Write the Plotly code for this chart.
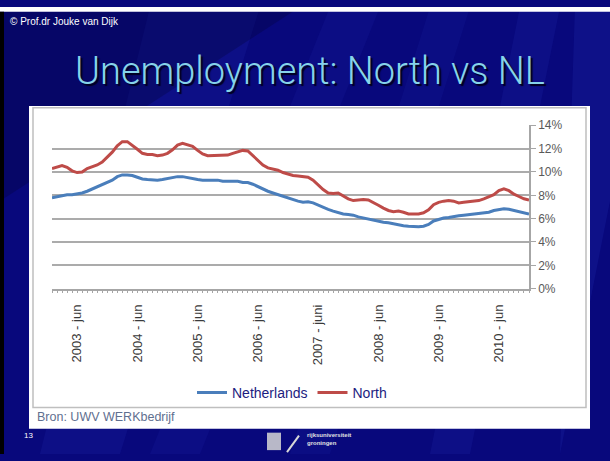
import plotly.graph_objects as go

# ---- data (monthly, Jan 2003 .. Dec 2010), unemployment in % ----
years = [2003, 2004, 2005, 2006, 2007, 2008, 2009, 2010]
month_names = ["jan", "feb", "mrt", "apr", "mei", "jun", "jul", "aug", "sep", "okt", "nov", "dec"]
months = [f"{y} - {m}" for y in years for m in month_names]

north = [10.3, 10.45, 10.55, 10.4, 10.1, 9.95, 10.0, 10.3, 10.45, 10.6, 10.85, 11.3,
         11.7, 12.25, 12.6, 12.6, 12.3, 11.95, 11.6, 11.5, 11.5, 11.4, 11.45, 11.6,
         11.9, 12.3, 12.45, 12.35, 12.2, 11.85, 11.55, 11.4, 11.4, 11.45, 11.4, 11.45,
         11.6, 11.7, 11.85, 11.8, 11.4, 11.0, 10.6, 10.35, 10.25, 10.15, 9.95, 9.8,
         9.7, 9.65, 9.6, 9.55, 9.3, 8.9, 8.5, 8.2, 8.15, 8.2, 7.95, 7.7,
         7.55, 7.6, 7.65, 7.6, 7.4, 7.15, 6.9, 6.7, 6.6, 6.65, 6.55, 6.4,
         6.4, 6.4, 6.5, 6.75, 7.2, 7.4, 7.5, 7.55, 7.5, 7.35, 7.4, 7.45,
         7.45, 7.55, 7.7, 7.85, 8.05, 8.4, 8.55, 8.4, 8.1, 7.9, 7.7, 7.6]

netherlands = [7.8, 7.9, 8.0, 8.05, 8.05, 8.1, 8.2, 8.35, 8.55, 8.7, 8.9, 9.1,
               9.3, 9.6, 9.75, 9.75, 9.7, 9.55, 9.4, 9.35, 9.3, 9.3, 9.35, 9.45,
               9.55, 9.6, 9.6, 9.5, 9.45, 9.35, 9.3, 9.3, 9.35, 9.3, 9.2, 9.2,
               9.15, 9.2, 9.1, 9.1, 8.95, 8.75, 8.5, 8.35, 8.2, 8.05, 7.95, 7.8,
               7.65, 7.5, 7.4, 7.45, 7.35, 7.15, 6.95, 6.8, 6.65, 6.5, 6.4, 6.35,
               6.3, 6.15, 6.05, 5.95, 5.85, 5.75, 5.7, 5.65, 5.55, 5.5, 5.4, 5.35,
               5.3, 5.3, 5.35, 5.5, 5.8, 5.95, 6.05, 6.1, 6.2, 6.25, 6.3, 6.35,
               6.4, 6.45, 6.5, 6.55, 6.7, 6.8, 6.85, 6.8, 6.7, 6.55, 6.45, 6.4]

tick_months = ["2003 - jun", "2004 - jun", "2005 - jun", "2006 - jun",
               "2007 - jun", "2008 - jun", "2009 - jun", "2010 - jun"]
tick_labels = ["2003 - jun", "2004 - jun", "2005 - jun", "2006 - jun",
               "2007 - juni", "2008 - jun", "2009 - jun", "2010 - jun"]
y_ticks = [0, 2, 4, 6, 8, 10, 12, 14]
y_tick_labels = ["0%", "2%", "4%", "6%", "8%", "10%", "12%", "14%"]

W, H = 610, 461
idx = list(range(len(months)))
tick_idx = [months.index(m) for m in tick_months]

def px(x):
    return x / W

def py(y):
    return 1 - y / H

fig = go.Figure()
fig.add_trace(go.Scatter(x=idx, y=netherlands, mode="lines", name="Netherlands",
                         line=dict(color="#4a7ebb", width=3)))
fig.add_trace(go.Scatter(x=idx, y=north, mode="lines", name="North",
                         line=dict(color="#be4b48", width=3)))

shapes = []
# slide background
shapes.append(dict(type="rect", xref="paper", yref="paper", x0=0, x1=1, y0=0, y1=1,
                   fillcolor="#08087c", line=dict(width=0), layer="below"))
# diagonal lighter streaks
streaks = [
    (150, 0, 260, 0, 120, 461, 40, 461, 0.10),
    (330, 0, 380, 0, 200, 461, 150, 461, 0.08),
    (430, 0, 470, 0, 330, 461, 290, 461, 0.07),
    (520, 0, 560, 0, 470, 461, 430, 461, 0.10),
    (575, 0, 610, 0, 610, 200, 560, 461, 0.12),
]
for (ax0, ay0, ax1, ay1, bx1, by1, bx0, by0, op) in streaks:
    path = (f"M {px(ax0)} {py(ay0)} L {px(ax1)} {py(ay1)} "
            f"L {px(bx1)} {py(by1)} L {px(bx0)} {py(by0)} Z")
    shapes.append(dict(type="path", xref="paper", yref="paper", path=path,
                       fillcolor=f"rgba(60,80,230,{op})", line=dict(width=0), layer="below"))
# darker top-left zone
shapes.append(dict(type="path", xref="paper", yref="paper",
                   path=f"M 0 1 L {px(300)} 1 L 0 {py(200)} Z",
                   fillcolor="rgba(0,0,40,0.25)", line=dict(width=0), layer="below"))
# white strip at top, black strip at left
shapes.append(dict(type="rect", xref="paper", yref="paper", x0=0, x1=1, y0=py(5), y1=1,
                   fillcolor="white", line=dict(width=0), layer="below"))
shapes.append(dict(type="rect", xref="paper", yref="paper", x0=0, x1=px(4), y0=0, y1=py(5),
                   fillcolor="black", line=dict(width=0), layer="below"))
# white panel and chart box
shapes.append(dict(type="rect", xref="paper", yref="paper", x0=px(29), x1=px(590),
                   y0=py(435), y1=py(102), fillcolor="white", line=dict(width=0), layer="below"))
shapes.append(dict(type="rect", xref="paper", yref="paper", x0=px(33), x1=px(586),
                   y0=py(413), y1=py(104), fillcolor="white",
                   line=dict(color="#bfbfbf", width=1.5), layer="below"))
# logo approximation
shapes.append(dict(type="rect", xref="paper", yref="paper", x0=px(267), x1=px(281),
                   y0=py(457), y1=py(439), fillcolor="#b8b8c8", line=dict(width=0)))
shapes.append(dict(type="line", xref="paper", yref="paper", x0=px(287), x1=px(299),
                   y0=py(459), y1=py(442), line=dict(color="#d8d8d8", width=2)))

annotations = [
    dict(text="© Prof.dr Jouke van Dijk", x=px(8), y=py(15), xref="paper", yref="paper",
         xanchor="left", yanchor="middle", showarrow=False,
         font=dict(family="Liberation Sans, Arial", size=10, color="white")),
    dict(text="Unemployment: North vs NL", x=px(310), y=py(66), xref="paper", yref="paper",
         xanchor="center", yanchor="middle", showarrow=False,
         font=dict(family="Roboto, Liberation Sans", size=38, weight=300, color="#86d3ea",
                   shadow="2px 2px 1px #000020")),
    dict(text="Bron: UWV WERKbedrijf", x=px(35), y=py(423), xref="paper", yref="paper",
         xanchor="left", yanchor="middle", showarrow=False,
         font=dict(family="Liberation Sans, Arial", size=12.5, color="#5f6f8f")),
    dict(text="13", x=px(22), y=py(442), xref="paper", yref="paper",
         xanchor="left", yanchor="middle", showarrow=False,
         font=dict(family="Liberation Sans, Arial", size=8, color="white")),
    dict(text="<b>rijksuniversiteit<br>groningen</b>", x=px(305), y=py(446), xref="paper", yref="paper",
         xanchor="left", yanchor="middle", showarrow=False, align="left",
         font=dict(family="Liberation Sans, Arial", size=6, color="#e0e0e0")),
]

fig.update_layout(
    width=W, height=H, autosize=False,
    margin=dict(l=0, r=0, t=0, b=0),
    paper_bgcolor="#08087c", plot_bgcolor="white",
    shapes=shapes, annotations=annotations,
    showlegend=True,
    legend=dict(orientation="h", x=px(292), y=py(398), xanchor="center", yanchor="middle",
                bgcolor="rgba(0,0,0,0)", font=dict(family="Liberation Sans, Arial", size=14, color="#1c1c80"),
                itemwidth=30),
    xaxis=dict(domain=[px(52), px(529)], range=[0, len(months) - 1],
               tickmode="array", tickvals=tick_idx, ticktext=tick_labels, tickangle=-90,
               ticks="outside", ticklen=3, tickcolor="#a6a6a6", ticklabelstandoff=6,
               minor=dict(tickmode="linear", tick0=0, dtick=1, ticks="outside", ticklen=3,
                          tickcolor="#a6a6a6", showgrid=False),
               showgrid=False, zeroline=False, showline=True, linecolor="#a6a6a6", linewidth=1.5,
               tickfont=dict(family="Liberation Sans, Arial", size=13, color="#3a3a3a"),
               fixedrange=True),
    yaxis=dict(domain=[py(290.5), py(122)], range=[0, 14], side="right",
               tickmode="array", tickvals=y_ticks, ticktext=y_tick_labels,
               ticks="outside", ticklen=5, tickcolor="#a6a6a6",
               showgrid=True, gridcolor="#ababab", gridwidth=1.5, zeroline=False,
               showline=True, linecolor="#a6a6a6", linewidth=1.5,
               tickfont=dict(family="Liberation Sans, Arial", size=12, color="#595959"),
               fixedrange=True),
)

fig.write_html("out.html", config={"displayModeBar": False},
               post_script="document.body.style.margin='0';document.body.style.overflow='hidden';")
